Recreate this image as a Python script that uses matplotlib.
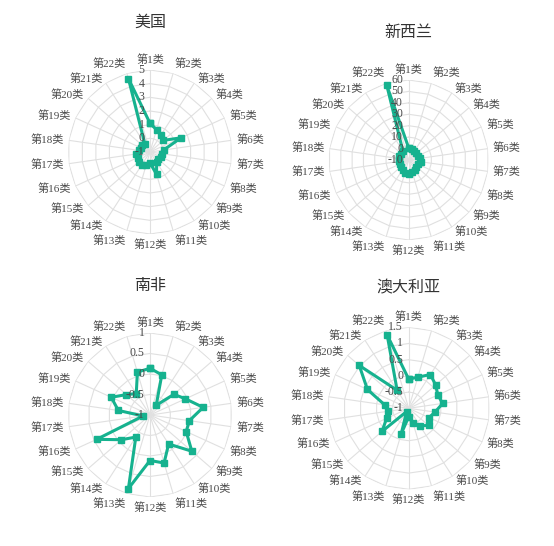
import numpy as np
import matplotlib
matplotlib.use('Agg')
import matplotlib.pyplot as plt

plt.rcParams['font.family'] = ['Noto Sans CJK SC', 'DejaVu Sans']

categories = ['第%d类' % i for i in range(1, 23)]

usa = [1.1, 0.7, 0.5, 0.3, 1.5, 0.0, -0.1, -0.1, -0.2, -0.1, 0.7, -0.2,
       0.0, 0.1, 0.1, 0.0, 0.0, -0.2, -0.3, -0.2, -0.3, 4.6]
nz = [0.5, 0, -1, -1, -1.5, 0, 0.5, -1, -1, 0, 1, 2.5,
      2, 0, -1, -1.5, -1.5, -1, -1, -1.5, -0.5, 58]
za = [0.14, 0.02, -0.72, -0.23, -0.05, 0.31, -0.03, -0.03, 0.35, -0.16, 0.22, 0.11,
      0.87, -0.36, -0.08, 0.43, -0.83, -0.22, 0.04, -0.24, -0.38, 0.09]
aus = [-0.1, 0.0, 0.24, 0.1, -0.01, 0.06, -0.18, -0.31, -0.19, -0.36, -0.52, -0.74,
       -0.18, -0.88, 0.09, -0.25, -0.34, -0.25, 0.4, 1.02, -0.34, 1.36]

titles = ['美国', '新西兰', '南非', '澳大利亚']
series = [usa, nz, za, aus]
ranges = [(-1, 5, 1), (-10, 60, 10), (-1, 1, 0.5), (-1, 1.5, 0.5)]

W, H = 554, 546
# centre x, centre y, radius (px), title y
boxes = [(150, 152, 82, 22), (408.7, 160, 80, 32), (150, 415, 82, 285), (408.7, 408.3, 81, 288)]

green = '#16b28f'
grid_c = '#e0e0e0'
lab_font = ['Liberation Serif', 'Noto Sans CJK SC']

fig = plt.figure(figsize=(W / 100, H / 100), dpi=100)

n = len(categories)
theta = np.arange(n) * 2 * np.pi / n

for title, vals, (rmin, rmax, step), (cx, cy, R, ty) in zip(titles, series, ranges, boxes):
    ax = fig.add_axes([(cx - R) / W, 1 - (cy + R) / H, 2 * R / W, 2 * R / H], projection='polar')
    ax.set_theta_zero_location('N')
    ax.set_theta_direction(-1)
    ax.set_ylim(rmin, rmax)
    ax.grid(False)
    ax.set_xticks([])
    ax.set_yticks([])
    ax.spines['polar'].set_visible(False)
    ax.patch.set_alpha(0)

    ticks = np.arange(rmin, rmax + step / 2, step)
    tc = np.append(theta, theta[0])
    for t in ticks[1:]:
        ax.plot(tc, [t] * len(tc), color=grid_c, lw=0.8, zorder=1)
    for t in theta:
        ax.plot([t, t], [rmin, rmax], color=grid_c, lw=0.8, zorder=1)

    for t in ticks:
        ax.annotate('%g' % t, xy=(0, t), xytext=(-4, 0), textcoords='offset points',
                    ha='right', va='center', fontsize=8.5, color='#4a4a4a',
                    family=lab_font, zorder=4)

    rl = rmax + 5.0 / R * (rmax - rmin)
    for t, name in zip(theta, categories):
        sn, cs = np.sin(t), np.cos(t)
        ha = 'left' if sn > 0.05 else ('right' if sn < -0.05 else 'center')
        va = 'bottom' if cs > 0.95 else ('top' if cs < -0.95 else 'center')
        ax.text(t, rl, name, ha=ha, va=va, fontsize=8, color='#4a4a4a', family=lab_font)

    v = np.append(vals, vals[0])
    ax.plot(tc, v, color=green, lw=2.2, marker='s', markersize=5, zorder=3, clip_on=False)

    fig.text(cx / W, 1 - ty / H, title, ha='center', va='center', fontsize=11.5, color='#333333')

fig.savefig('out.png', dpi=100)
